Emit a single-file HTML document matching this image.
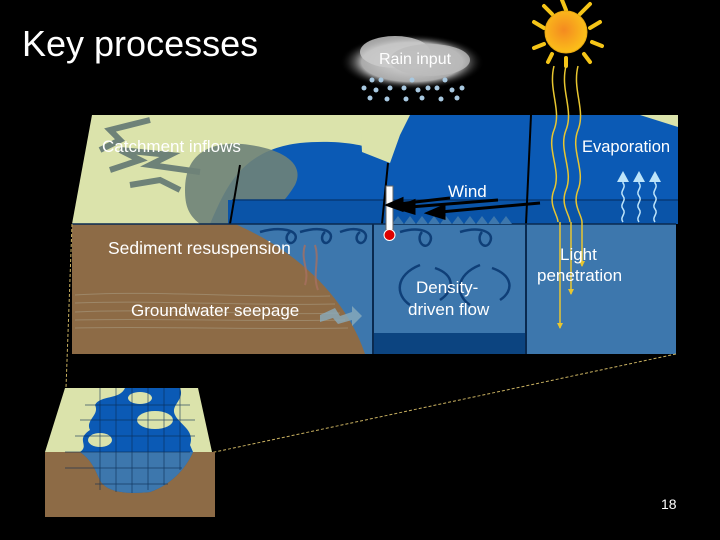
<!DOCTYPE html>
<html><head><meta charset="utf-8"><style>
html,body{margin:0;padding:0;background:#000;}
svg{display:block;}
text{font-family:"Liberation Sans",Arial,sans-serif;}
</style></head><body>
<svg width="720" height="540" viewBox="0 0 720 540" xmlns="http://www.w3.org/2000/svg">
<defs>
<radialGradient id="sun" cx="0.45" cy="0.45" r="0.6"><stop offset="0" stop-color="#f48a20"/><stop offset="1" stop-color="#fcc419"/></radialGradient>
<radialGradient id="cloud" cx="0.5" cy="0.5" r="0.5"><stop offset="0" stop-color="#ddd"/><stop offset="0.7" stop-color="#aaa"/><stop offset="1" stop-color="#000" stop-opacity="0"/></radialGradient>
<marker id="ay" markerWidth="6" markerHeight="6" refX="5" refY="3" orient="auto" markerUnits="userSpaceOnUse"><path d="M0,0 L6,3 L0,6z" fill="#e8c630"/></marker>
</defs>
<rect width="720" height="540" fill="#000"/>
<text x="22" y="56" font-size="36" fill="#fff">Key processes</text>

<ellipse cx="412" cy="62" rx="72" ry="28" fill="url(#cloud)"/>
<ellipse cx="395" cy="52" rx="35" ry="16" fill="#ccc" opacity="0.8"/>
<ellipse cx="430" cy="60" rx="40" ry="16" fill="#bbb" opacity="0.8"/>
<text x="379" y="64" font-size="16" fill="#fff">Rain input</text>
<g fill="#a8c8e0">
<circle cx="372" cy="80" r="2.5"/><circle cx="381" cy="80" r="2.5"/><circle cx="412" cy="80" r="2.5"/><circle cx="445" cy="80" r="2.5"/>
<circle cx="364" cy="88" r="2.5"/><circle cx="376" cy="90" r="2.5"/><circle cx="390" cy="88" r="2.5"/><circle cx="404" cy="88" r="2.5"/><circle cx="418" cy="90" r="2.5"/><circle cx="428" cy="88" r="2.5"/><circle cx="437" cy="88" r="2.5"/><circle cx="452" cy="90" r="2.5"/><circle cx="462" cy="88" r="2.5"/>
<circle cx="370" cy="98" r="2.5"/><circle cx="387" cy="99" r="2.5"/><circle cx="406" cy="99" r="2.5"/><circle cx="422" cy="98" r="2.5"/><circle cx="441" cy="99" r="2.5"/><circle cx="457" cy="98" r="2.5"/>
</g>
<g stroke="#f5c518" stroke-width="4" fill="none" stroke-linecap="round">
<path d="M566,10 L562,0"/><path d="M580,14 L590,4"/><path d="M590,28 L600,22"/><path d="M592,42 L602,46"/><path d="M584,54 L590,62"/><path d="M552,14 L544,6"/><path d="M544,28 L534,22"/><path d="M544,44 L534,48"/><path d="M552,54 L548,62"/><path d="M566,58 L566,66"/>
</g>
<circle cx="566" cy="32" r="21" fill="url(#sun)" stroke="#e8a810" stroke-width="1"/>

<polygon points="92,115 678,115 678,224 72,224" fill="#dbe3ab"/>
<path d="M210,224 C225,190 240,150 300,143 C330,140 360,143 375,150 L400,115 L678,115 L678,224 Z" fill="#0b5ab5"/>
<polygon points="360,115 410,115 400,135 390,163 362,152" fill="#dbe3ab"/>
<polygon points="640,115 678,115 678,127" fill="#dbe3ab"/>
<path d="M185,190 C185,150 215,140 250,145 C285,150 305,165 295,185 C280,210 260,224 230,224 L200,224 C188,215 185,205 185,190 Z" fill="#6e8278" opacity="0.9"/>
<path d="M100,150 L120,140 L110,130 L150,120 M110,170 L140,160 L120,150 L170,155 L150,165 L200,172 M130,185 L160,180 L180,190" stroke="#6e8278" stroke-width="6" fill="none"/>
<rect x="228" y="200" width="450" height="24" fill="#0a54a8"/>
<line x1="232" y1="200" x2="678" y2="200" stroke="#063a78" stroke-width="1.5"/>
<line x1="240" y1="165" x2="230" y2="224" stroke="#000" stroke-width="2"/>
<line x1="388" y1="163" x2="382" y2="224" stroke="#000" stroke-width="2"/>
<line x1="531" y1="115" x2="526" y2="224" stroke="#000" stroke-width="2"/>

<rect x="72" y="224" width="604" height="130" fill="#3d77ad"/>
<path d="M72,224 L235,224 C295,250 345,295 365,354 L72,354 Z" fill="#8d6b46"/>
<g stroke="#a89a80" stroke-width="1" opacity="0.6" fill="none">
<path d="M75,295 C150,290 250,298 330,296"/><path d="M75,303 C160,300 250,306 335,304"/><path d="M75,312 C160,308 260,316 340,313"/><path d="M75,320 C160,318 260,322 345,320"/><path d="M75,328 C160,326 250,330 348,328"/>
</g>
<path d="M320,315 L335,308 L340,316 L352,312 L352,306 L362,316 L352,326 L352,320 L338,324 L333,318 L320,322Z" fill="#8aabbb" opacity="0.8"/>
<rect x="373" y="333" width="153" height="21" fill="#0c4480"/>
<line x1="373" y1="224" x2="373" y2="354" stroke="#0a2a50" stroke-width="2"/>
<line x1="526" y1="224" x2="526" y2="354" stroke="#0a2a50" stroke-width="2"/>
<line x1="72" y1="224" x2="676" y2="224" stroke="#0a2a50" stroke-width="1.5"/>
<path d="M392,224 l6,-8 l6,8 l6,-8 l6,8 l6,-8 l6,8 l6,-8 l6,8 l6,-8 l6,8 l6,-8 l6,8 l6,-8 l6,8 l6,-8 l6,8 l6,-8 l6,8 l6,-8 l6,8Z" fill="#3d77ad"/>
<g stroke="#0f3f78" stroke-width="2.5" fill="none">
<path d="M260,232 C280,226 300,230 295,240 C290,248 282,238 290,232"/>
<path d="M300,232 C320,226 335,230 330,240 C325,248 318,238 325,232"/>
<path d="M340,232 C355,226 370,230 365,240 C360,248 352,238 360,232"/>
<path d="M400,232 C420,226 435,232 430,242 C425,252 415,240 422,232"/>
<path d="M460,232 C480,226 495,232 490,242 C485,252 475,240 482,232"/>
<path d="M410,305 C395,295 395,275 420,265"/><path d="M440,300 C455,290 455,275 435,268"/>
<path d="M470,305 C455,295 455,275 480,265"/><path d="M500,300 C515,290 512,275 492,268"/>
</g>
<g stroke="#a87060" stroke-width="2" fill="none" opacity="0.8"><path d="M305,245 C300,260 310,270 305,285"/><path d="M315,245 C320,260 312,275 318,290"/></g>
<rect x="386" y="186" width="7" height="44" fill="#fff" stroke="#666" stroke-width="1"/>
<circle cx="389.5" cy="235" r="5.5" fill="#d00" stroke="#fff" stroke-width="1"/>
<g stroke="#000" stroke-width="3" fill="#000">
<line x1="498" y1="200" x2="410" y2="207"/><polygon points="398,208 414,201 414,213"/>
<line x1="540" y1="203" x2="440" y2="212"/><polygon points="428,213 444,206 444,218"/>
<line x1="450" y1="198" x2="398" y2="204"/><polygon points="388,205 402,199 402,210"/>
</g>
<g stroke="#e8c630" stroke-width="1.5" fill="none">
<path d="M554,66 C548,90 562,110 554,130 C546,150 562,170 554,190 C548,205 558,215 558,222"/>
<path d="M566,66 C560,90 574,110 566,130 C558,150 574,170 566,190 C560,205 570,215 570,222"/>
<path d="M578,66 C572,90 586,110 578,130 C570,150 586,170 578,190 C572,205 582,215 582,222"/>
<line x1="560" y1="222" x2="560" y2="328" marker-end="url(#ay)"/>
<line x1="571" y1="222" x2="571" y2="294" marker-end="url(#ay)"/>
<line x1="582" y1="222" x2="582" y2="266" marker-end="url(#ay)"/>
</g>
<g stroke="#bde4fa" stroke-width="1.5" fill="none">
<path d="M623,222 c-4,-5 4,-8 0,-13 c-4,-5 4,-8 0,-13 c-4,-5 4,-8 0,-13 l0,-6"/>
<path d="M639,222 c-4,-5 4,-8 0,-13 c-4,-5 4,-8 0,-13 c-4,-5 4,-8 0,-13 l0,-6"/>
<path d="M655,222 c-4,-5 4,-8 0,-13 c-4,-5 4,-8 0,-13 c-4,-5 4,-8 0,-13 l0,-6"/>
</g>
<g fill="#bde4fa"><polygon points="623,171 617,182 629,182"/><polygon points="639,171 633,182 645,182"/><polygon points="655,171 649,182 661,182"/></g>

<g font-size="17" fill="#fff">
<text x="102" y="152">Catchment inflows</text>
<text x="582" y="152" font-size="16.5">Evaporation</text>
<text x="448" y="197">Wind</text>
<text x="108" y="254" font-size="17.5">Sediment resuspension</text>
<text x="560" y="260">Light</text>
<text x="537" y="281">penetration</text>
<text x="416" y="293">Density-</text>
<text x="408" y="315">driven flow</text>
<text x="131" y="316">Groundwater seepage</text>
</g>

<line x1="72" y1="224" x2="66" y2="388" stroke="#c8b060" stroke-width="1" stroke-dasharray="3,2"/>
<line x1="676" y1="354" x2="130" y2="470" stroke="#c8b060" stroke-width="1" stroke-dasharray="3,2"/>

<polygon points="65,388 198,388 212,452 45,452" fill="#dbe3ab"/>
<rect x="45" y="452" width="170" height="65" fill="#8d6b46"/>
<path d="M95,405 C100,395 120,400 125,388 L180,388 C185,400 170,405 175,415 C180,425 195,430 190,445 L193,452 C185,470 170,485 150,492 C120,495 105,490 100,480 C95,470 92,460 80,452 C90,445 75,440 90,430 C85,420 100,415 95,405 Z" fill="#0b5ab5"/>
<path d="M80,452 L193,452 C185,470 170,485 150,492 C120,495 105,490 100,480 C95,470 92,460 80,452Z" fill="#3d77ad"/>
<g fill="#dbe3ab"><ellipse cx="155" cy="420" rx="18" ry="9"/><ellipse cx="140" cy="398" rx="12" ry="6"/><ellipse cx="100" cy="440" rx="12" ry="7"/></g>
<g stroke="#0a2a50" stroke-width="0.7" opacity="0.8">
<line x1="100" y1="388" x2="100" y2="490"/><line x1="116" y1="388" x2="116" y2="492"/><line x1="132" y1="388" x2="132" y2="493"/><line x1="148" y1="388" x2="148" y2="490"/><line x1="164" y1="388" x2="164" y2="485"/><line x1="180" y1="388" x2="180" y2="470"/>
<line x1="85" y1="405" x2="190" y2="405"/><line x1="80" y1="420" x2="195" y2="420"/><line x1="75" y1="436" x2="195" y2="436"/><line x1="65" y1="452" x2="190" y2="452"/><line x1="65" y1="468" x2="182" y2="468"/><line x1="95" y1="484" x2="168" y2="484"/>
</g>
<text x="661" y="509" font-size="14" fill="#fff">18</text>
</svg>
</body></html>
